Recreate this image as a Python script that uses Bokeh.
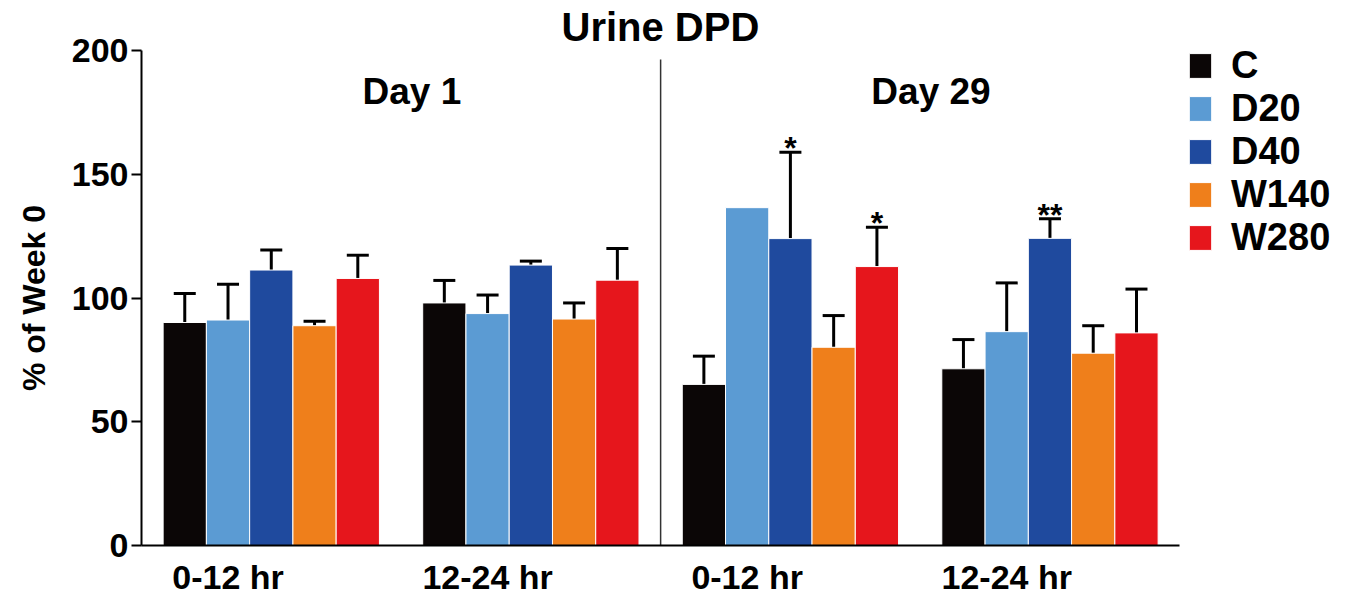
from bokeh.plotting import figure
from bokeh.models import (Range1d, FixedTicker, Whisker, TeeHead, ColumnDataSource,
                          Legend, LegendItem)
from bokeh.core.properties import value
from bokeh.embed import file_html
from bokeh.resources import INLINE

# ---------------- data ----------------
title = "Urine DPD"
days = ["Day 1", "Day 29"]
periods = ["0-12 hr", "12-24 hr", "0-12 hr", "12-24 hr"]
series = ["C", "D20", "D40", "W140", "W280"]
colors = ["#0b0606", "#5b9bd3", "#1f4a9e", "#ef7f1b", "#e6161c"]

C_mean = [90.1, 98.0, 65.1, 71.4]
D20_mean = [91.1, 93.7, 136.5, 86.4]
D40_mean = [111.3, 113.3, 124.0, 124.1]
W140_mean = [88.8, 91.5, 80.1, 77.7]
W280_mean = [107.9, 107.2, 112.7, 85.9]

C_err = [11.7, 9.1, 11.4, 11.8]
D20_err = [14.5, 7.5, None, 19.7]
D40_err = [8.1, 1.6, 34.9, 7.9]
W140_err = [1.8, 6.5, 12.8, 11.1]
W280_err = [9.4, 12.8, 15.9, 17.7]

sig_series = ["D40", "W280", "D40"]
sig_group = [2, 2, 3]
sig_text = ["*", "*", "**"]

y_ticks = [0, 50, 100, 150, 200]

means = [C_mean, D20_mean, D40_mean, W140_mean, W280_mean]
errs = [C_err, D20_err, D40_err, W140_err, W280_err]

# ---------------- layout ----------------
FONT = "Liberation Sans"
W, H = 1356, 598
LEFT, RIGHT, TOP, BOTTOM = 141, 4, 49, 53
px_x = 43.26
frame_w = W - LEFT - RIGHT
n_groups = len(periods)
n_ser = len(series)
slot = n_ser + 1
x_max = n_groups * slot

p = figure(width=W, height=H, output_backend="svg", toolbar_location=None,
           x_range=Range1d(0, frame_w / px_x), y_range=Range1d(0, 200),
           min_border_left=LEFT, min_border_right=RIGHT, min_border_top=TOP,
           min_border_bottom=BOTTOM)
p.outline_line_color = None
p.grid.visible = False
p.background_fill_color = "white"

def xpos(g, i):
    return g * slot + 1 + i

items = []
for i, s in enumerate(series):
    xs = [xpos(g, i) for g in range(n_groups)]
    src = ColumnDataSource(dict(x=xs, top=means[i]))
    r = p.vbar(x="x", top="top", bottom=0, width=1.0, source=src,
               fill_color=colors[i], line_color="white", line_width=1)
    items.append(LegendItem(label=s, renderers=[r]))
    wx, wl, wu = [], [], []
    for g in range(n_groups):
        e = errs[i][g]
        if e is None:
            continue
        wx.append(xs[g]); wl.append(means[i][g]); wu.append(means[i][g] + e)
    wsrc = ColumnDataSource(dict(x=wx, lower=wl, upper=wu))
    p.add_layout(Whisker(source=wsrc, base="x", lower="lower", upper="upper",
                         dimension="height", line_width=3, line_color="black",
                         lower_head=None,
                         upper_head=TeeHead(size=22, line_width=3, line_color="black")))

# significance marks
sx, sy, st = [], [], []
for s, g, t in zip(sig_series, sig_group, sig_text):
    i = series.index(s)
    sx.append(xpos(g, i)); sy.append(means[i][g] + errs[i][g]); st.append(t)
p.text(x=sx, y=sy, text=st, text_align="center", text_baseline="alphabetic",
       y_offset=-4, text_font=value(FONT), text_font_style="bold",
       text_font_size="32px", text_color="black")

# divider between days
p.segment(x0=[x_max / 2], y0=[0], x1=[x_max / 2], y1=[196.4],
          line_color="#333333", line_width=1.5)

# day labels
p.text(x=[x_max / 4 + 0.25, 3 * x_max / 4 + 0.25], y=[183.4, 183.4], text=days,
       text_align="center", text_baseline="alphabetic", text_font=value(FONT),
       text_font_style="bold", text_font_size="37px", text_color="black")

# title (above the frame)
p.title.text = title
p.title.align = "left"
p.title.offset = 420
p.title.standoff = 4
p.title.text_font = FONT
p.title.text_font_style = "bold"
p.title.text_font_size = "40px"
p.title.text_color = "black"

# axes
p.xaxis.bounds = (0, x_max)
p.xaxis.ticker = FixedTicker(ticks=[g * slot + 2 for g in range(n_groups)])
p.xaxis.major_label_overrides = {g * slot + 2: periods[g] for g in range(n_groups)}
p.xaxis.major_tick_line_color = None
p.xaxis.minor_tick_line_color = None
p.xaxis.axis_line_width = 2
p.xaxis.axis_line_color = "black"
p.xaxis.major_label_text_font = FONT
p.xaxis.major_label_text_font_style = "bold"
p.xaxis.major_label_text_font_size = "34px"
p.xaxis.major_label_text_color = "black"
p.xaxis.major_label_standoff = 6

p.yaxis.ticker = FixedTicker(ticks=y_ticks)
p.yaxis.minor_tick_line_color = None
p.yaxis.major_tick_out = 10
p.yaxis.major_tick_in = 0
p.yaxis.major_tick_line_width = 2
p.yaxis.axis_line_width = 2
p.yaxis.axis_line_color = "black"
p.yaxis.major_tick_line_color = "black"
p.yaxis.major_label_text_font = FONT
p.yaxis.major_label_text_font_style = "bold"
p.yaxis.major_label_text_font_size = "34px"
p.yaxis.major_label_text_color = "black"
p.yaxis.major_label_standoff = 3
p.yaxis.axis_label = "% of Week 0"
p.yaxis.axis_label_text_font = FONT
p.yaxis.axis_label_text_font_style = "bold"
p.yaxis.axis_label_text_font_size = "32px"
p.yaxis.axis_label_text_color = "black"
p.yaxis.axis_label_standoff = 17

legend = Legend(items=items, location=(1045, 286), glyph_width=28, glyph_height=31,
                label_standoff=17, spacing=-5, padding=0, margin=0,
                label_text_font=FONT, label_text_font_style="bold",
                label_text_font_size="38px", label_text_color="black",
                border_line_color=None, background_fill_alpha=0)
p.add_layout(legend)

open("out.html", "w").write(file_html(p, INLINE))
